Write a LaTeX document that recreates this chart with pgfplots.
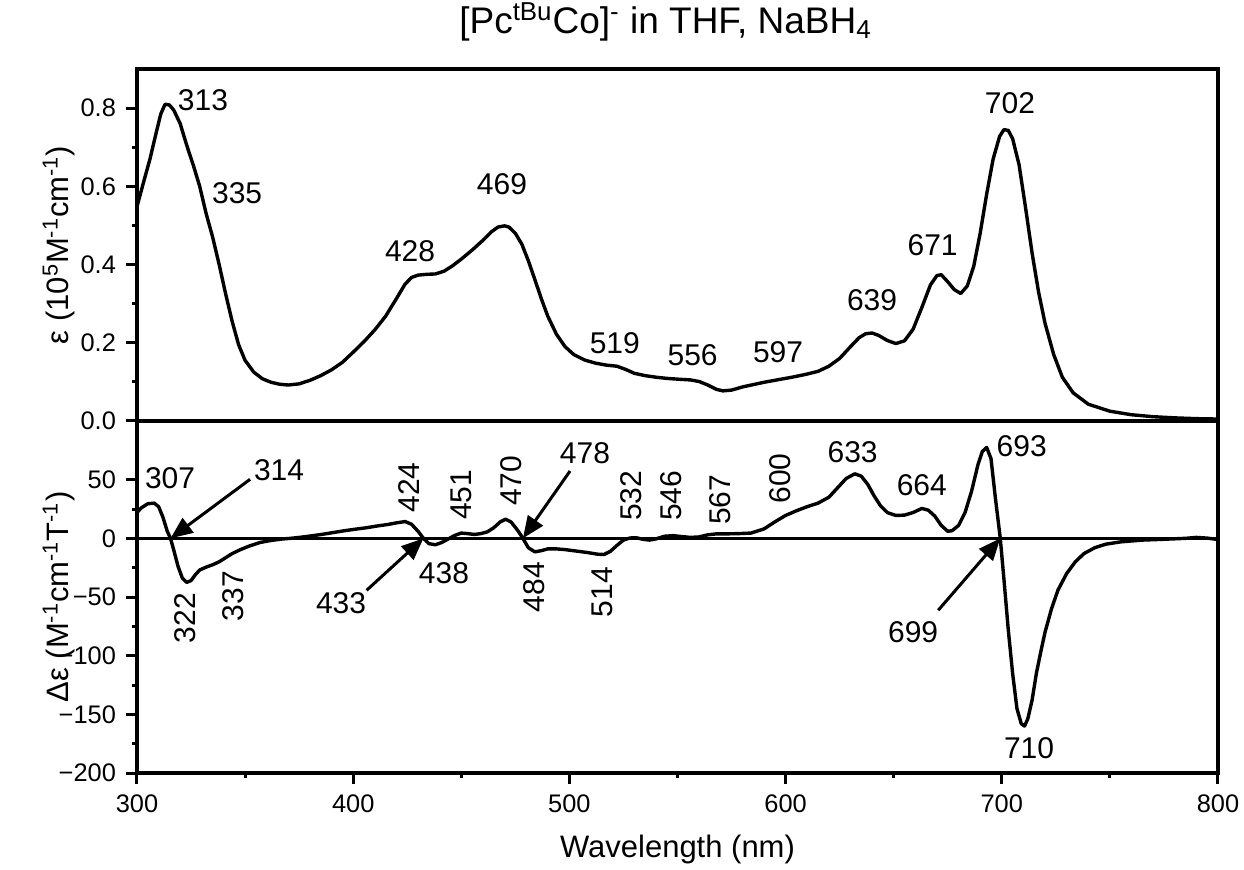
\documentclass[border=0pt]{standalone}
\usepackage{fontspec}
\setmainfont{Liberation Sans}
\usepackage{pgfplots}
\pgfplotsset{compat=1.18}
\usetikzlibrary{arrows.meta}

\newcommand{\tickfont}{\fontsize{12.7pt}{14pt}\selectfont}
\newcommand{\annfont}{\fontsize{15pt}{17pt}\selectfont}
\newcommand{\labfont}{\fontsize{15.5pt}{18pt}\selectfont}
\newcommand{\titlefont}{\fontsize{18.5pt}{21pt}\selectfont}

% UV-vis absorption (epsilon / 10^5 M^-1 cm^-1)
\pgfplotstableread{
lam eps
300 0.548
303 0.61
306 0.67
309 0.74
311 0.785
313 0.810
315 0.808
317 0.795
320 0.76
323 0.705
326 0.655
329 0.600
332 0.530
335 0.470
338 0.400
341 0.325
344 0.255
347 0.195
350 0.155
354 0.125
358 0.108
362 0.099
366 0.094
370 0.092
375 0.095
380 0.104
385 0.116
390 0.131
395 0.150
400 0.176
405 0.203
410 0.233
415 0.268
420 0.313
424 0.350
427 0.367
430 0.373
434 0.375
438 0.376
442 0.383
446 0.397
450 0.414
455 0.437
460 0.462
464 0.484
467 0.496
470 0.499
472 0.496
475 0.480
478 0.452
481 0.410
484 0.362
487 0.313
490 0.268
494 0.222
498 0.190
502 0.170
507 0.156
512 0.148
517 0.143
522 0.140
526 0.132
530 0.122
535 0.116
540 0.112
545 0.109
550 0.107
556 0.105
560 0.101
564 0.092
568 0.081
571 0.077
575 0.079
580 0.087
585 0.093
590 0.099
597 0.106
603 0.112
610 0.120
615 0.127
620 0.140
625 0.160
630 0.190
634 0.213
637 0.223
640 0.225
643 0.219
647 0.206
651 0.198
655 0.205
659 0.235
663 0.290
667 0.348
670 0.372
672 0.374
675 0.356
678 0.336
681 0.326
684 0.345
687 0.395
690 0.480
693 0.580
696 0.670
699 0.728
701 0.745
703 0.743
705 0.722
708 0.655
711 0.545
714 0.430
717 0.330
720 0.250
724 0.170
728 0.112
733 0.072
740 0.043
750 0.025
760 0.016
770 0.011
780 0.008
790 0.006
800 0.005
}\uvvis

% MCD (Delta epsilon / M^-1 cm^-1 T^-1)
\pgfplotstableread{
lam deps
300 22
302 26
305 29.5
308 30
310 27
312 18
314 6
315.5 0
317 -10
319 -24
321 -34
323 -37.5
325 -36
327 -31
329 -27
332 -24.5
335 -22.5
338 -20
341 -16.5
344 -13
348 -9.5
352 -6.5
357 -3.5
362 -1.8
367 -0.6
371 0
376 1
381 2.2
386 3.5
391 5
396 6.5
401 7.8
406 9
411 10.5
416 11.8
420 13.2
424 14.3
427 12
430 6
432.5 0
435 -4.5
438 -5.5
441 -3.5
444 -0.5
447 2.5
450 4.5
453 4
456 3.3
459 4
462 5.5
465 9
468 14
470.5 16.3
473 14
476 7
478.5 0
481 -8
484 -11.5
487 -10.5
490 -9
494 -9
498 -9.6
503 -10.8
508 -12
513 -13.5
516 -13.8
519 -11
522 -6
525 -1.5
528 0.3
531 0.5
534 -0.8
537 -1.5
540 -0.5
544 1.8
548 2.3
552 1.5
556 0.8
560 1.2
564 3
568 3.8
572 3.8
578 4
584 4.5
590 8
595 14
600 19.5
605 23.5
610 27
615 30
620 35
624 43
628 51
632 55
635 53
638 46
641 36
644 27.5
647 22
651 19.5
655 19.8
659 22
663 25.5
666 24
669 19
672 11
675 6
677 6.5
680 11
683 22
686 40
689 63
691 74
693 77.5
695 68
697 35
699.3 0
701 -35
703 -78
705 -115
707 -145
709 -158
710.5 -160
712 -154
714 -138
716 -115
718 -97
720 -80
723 -60
726 -44
730 -30
734 -20
738 -13
743 -8
748 -5
755 -3
765 -1.5
775 -0.8
785 0
790 0.8
795 0.2
800 -1
}\mcd

\tikzset{
  pointer/.style={line width=1.5pt, -{Triangle[length=11pt,width=9pt]}},
}

\pgfplotsset{
  panel/.style={
    scale only axis, width=540.5pt, height=176pt,
    xmin=300, xmax=800,
    axis line style={line width=1.6pt},
    every tick/.style={line width=1.5pt, black},
    major tick length=5.5pt, minor tick length=2.7pt,
    tick align=outside, tick pos=left,
    clip=false,
    ticklabel style={font=\tickfont},
    xticklabel style={yshift=-2pt},
    yticklabel style={xshift=-1.5pt},
    every axis y label/.style={at={(axis description cs:-0.0638,0.5)},
      rotate=90, anchor=base, font=\labfont},
  },
  spectrum/.style={black, line width=1.7pt, line join=round, no markers},
}

\begin{document}
\begin{tikzpicture}
% lower panel: MCD
\begin{axis}[panel,
  at={(0,0)}, anchor=south west,
  ymin=-200, ymax=100,
  xtick={300,400,...,800}, minor x tick num=1,
  ytick={-200,-150,...,50}, minor y tick num=1,
  yticklabels={−200,−150,−100,−50,0,50},
  xticklabels={300,400,500,600,700,800},
  xlabel={Wavelength (nm)},
  every axis x label/.style={at={(axis description cs:0.5,0)},
    anchor=base, yshift=-42pt, font=\labfont},
  ylabel={Δε (M\textsuperscript{-1}cm\textsuperscript{-1}T\textsuperscript{-1})},
  nodes={font=\annfont},
]
\addplot[black, line width=1.4pt] coordinates {(300,0) (800,0)};
\addplot[spectrum] table[x=lam, y=deps] {\mcd};

\node at (axis cs:315.3,51.7) {307};
\node at (axis cs:365.7,58) {314};
\draw[pointer] (axis cs:352.3,50.3) -- (axis cs:315.5,0);
\node[rotate=90] at (axis cs:322.2,-68) {322};
\node[rotate=90] at (axis cs:344.6,-49.4) {337};
\node at (axis cs:394.4,-55) {433};
\draw[pointer] (axis cs:406.2,-44.3) -- (axis cs:432.5,0);
\node[rotate=90] at (axis cs:425.8,43.2) {424};
\node at (axis cs:442,-29.5) {438};
\node[rotate=90] at (axis cs:450.2,37) {451};
\node[rotate=90] at (axis cs:473,48.9) {470};
\node at (axis cs:507.2,72.2) {478};
\draw[pointer] (axis cs:500.3,57.4) -- (axis cs:478.5,0);
\node[rotate=90] at (axis cs:483.7,-41.5) {484};
\node[rotate=90] at (axis cs:515.3,-45.8) {514};
\node[rotate=90] at (axis cs:528.8,36.2) {532};
\node[rotate=90] at (axis cs:547.3,36.2) {546};
\node[rotate=90] at (axis cs:569.7,32.8) {567};
\node[rotate=90] at (axis cs:597.4,51) {600};
\node at (axis cs:631,73.5) {633};
\node at (axis cs:663,45.5) {664};
\node at (axis cs:709.2,78.6) {693};
\node at (axis cs:659,-80) {699};
\draw[pointer] (axis cs:670.6,-61.3) -- (axis cs:699.3,0);
\node at (axis cs:712.6,-179) {710};
\end{axis}

% upper panel: UV-vis
\begin{axis}[panel,
  at={(0,176pt)}, anchor=south west,
  ymin=0, ymax=0.9,
  xtick=\empty,
  ytick={0,0.2,...,0.8}, minor y tick num=1,
  yticklabels={0.0,0.2,0.4,0.6,0.8},
  ylabel={ε (10\textsuperscript{5}M\textsuperscript{-1}cm\textsuperscript{-1})},
  title={[Pc\textsuperscript{tBu}Co]\textsuperscript{-} in THF, NaBH\textsubscript{4}},
  title style={at={(axis description cs:0.5,1)}, anchor=base,
    yshift=12pt, xshift=-6pt, font=\titlefont},
  nodes={font=\annfont},
]
\addplot[spectrum] table[x=lam, y=eps] {\uvvis};

\node at (axis cs:330.5,0.82) {313};
\node at (axis cs:346.3,0.582) {335};
\node at (axis cs:426.3,0.434) {428};
\node at (axis cs:468.8,0.605) {469};
\node at (axis cs:521,0.2) {519};
\node at (axis cs:557,0.169) {556};
\node at (axis cs:596.5,0.176) {597};
\node at (axis cs:640,0.309) {639};
\node at (axis cs:668,0.45) {671};
\node at (axis cs:703.8,0.812) {702};
\end{axis}

\pgfresetboundingbox
\path[use as bounding box] (-68.5pt,-48pt) rectangle (553.5pt,386.5pt);
\end{tikzpicture}
\end{document}
